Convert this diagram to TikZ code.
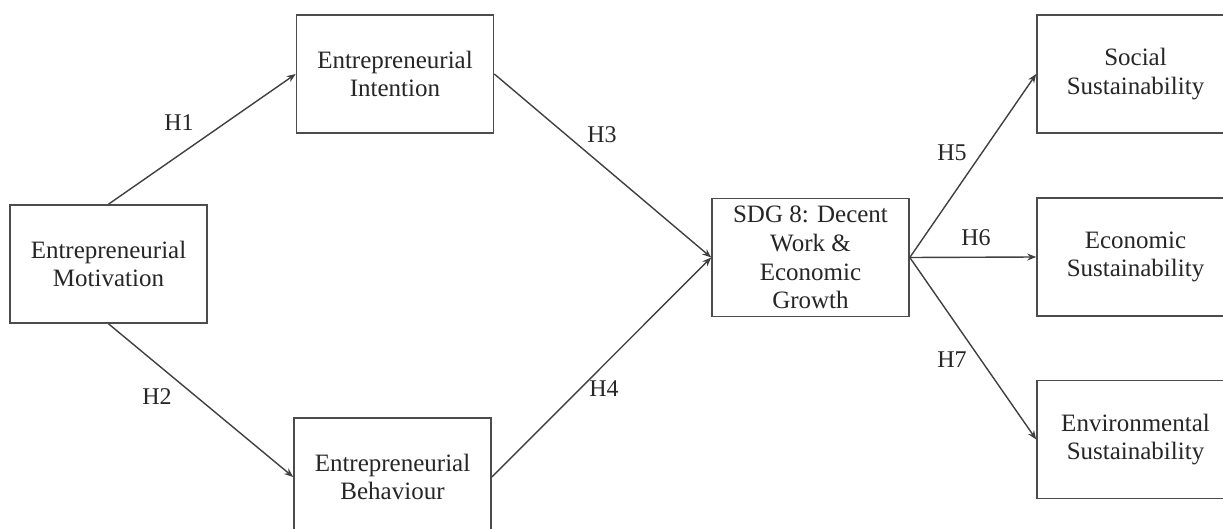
\documentclass[tikz,border=0pt]{standalone}
\usepackage{fontspec}
\setmainfont{Liberation Serif}
\usetikzlibrary{arrows.meta}
\tikzset{
  box/.style={draw=black!70, line width=1.6pt, rectangle, minimum width=197pt, minimum height=118pt, inner sep=0pt, align=center, text=black!85, font=\fontsize{25}{28.7}\selectfont},
  hlabel/.style={text=black!85, font=\fontsize{24}{28}\selectfont, inner sep=0pt},
  link/.style={draw=black!75, line width=1.4pt, -{Stealth[length=9pt,width=7pt]}}
}
\begin{document}
\begin{tikzpicture}[x=1pt,y=-1pt]
\useasboundingbox[fill=white] (0,0) rectangle (1223,529);
\node[box] (mot) at (108.5,264) {Entrepreneurial\\Motivation};
\node[box] (int) at (395,74) {Entrepreneurial\\Intention};
\node[box] (beh) at (392.5,477) {Entrepreneurial\\Behaviour};
\node[box] (sdg) at (810.5,257.5) {SDG 8: Decent\\Work \&\\Economic\\Growth};
\node[box] (soc) at (1135.5,74) {Social\\Sustainability};
\node[box] (eco) at (1135.5,257) {Economic\\Sustainability};
\node[box] (env) at (1135.5,439.5) {Environmental\\Sustainability};
\draw[link] (mot.north) -- (int.west);
\draw[link] (mot.south) -- (beh.west);
\draw[link] (int.east) -- (sdg.west);
\draw[link] (beh.east) -- (sdg.west);
\draw[link] (sdg.east) -- (soc.west);
\draw[link] (sdg.east) -- (eco.west);
\draw[link] (sdg.east) -- (env.west);
\node[hlabel] (h1) at (179,123) {H1};
\node[hlabel] (h2) at (157,397) {H2};
\node[hlabel] (h3) at (602,135) {H3};
\node[hlabel] (h4) at (604,389) {H4};
\node[hlabel] (h5) at (952,153) {H5};
\node[hlabel] (h6) at (976,238) {H6};
\node[hlabel] (h7) at (952,360) {H7};
\end{tikzpicture}
\end{document}
